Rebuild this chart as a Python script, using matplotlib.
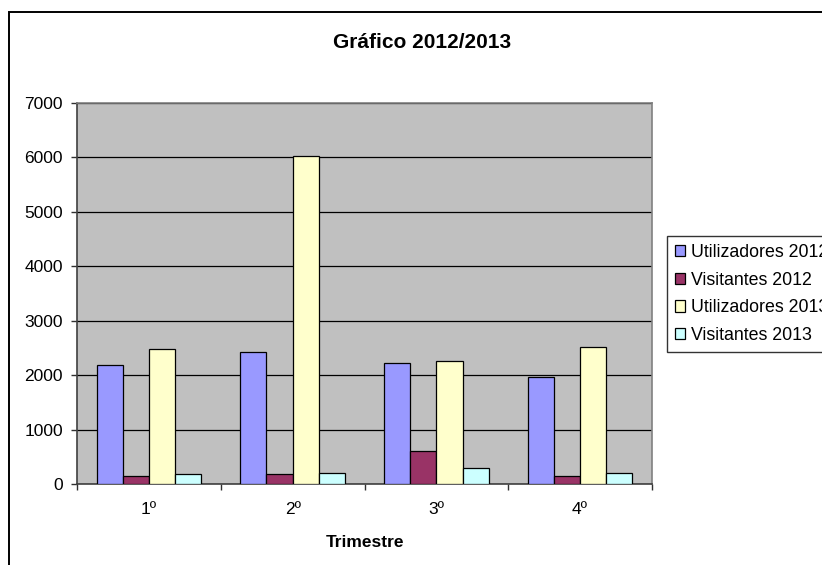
import matplotlib
matplotlib.use('Agg')
import matplotlib.pyplot as plt
from matplotlib.patches import Rectangle
import numpy as np

plt.rcParams['font.family'] = ['Liberation Sans', 'DejaVu Sans']

# dados
trimestres = ['1º', '2º', '3º', '4º']
series = ['Utilizadores 2012', 'Visitantes 2012', 'Utilizadores 2013', 'Visitantes 2013']
utilizadores_2012 = [2180, 2430, 2230, 1970]
visitantes_2012 = [150, 175, 600, 150]
utilizadores_2013 = [2480, 6030, 2260, 2510]
visitantes_2013 = [175, 200, 300, 200]
cores = ['#9999FF', '#993366', '#FFFFCC', '#CCFFFF']

W, H = 822, 565
fig = plt.figure(figsize=(W / 100, H / 100), dpi=100)
ax = fig.add_axes([77 / W, 1 - 484 / H, (652 - 77) / W, (484 - 103) / H])
ax.set_facecolor('#C0C0C0')

x = np.arange(len(trimestres))
w = 1 / 5.5  # gap width 150%
valores = [utilizadores_2012, visitantes_2012, utilizadores_2013, visitantes_2013]
for i, (nome, vals) in enumerate(zip(series, valores)):
    ax.bar(x + (i - 1.5) * w, vals, w, color=cores[i], edgecolor='black',
           linewidth=0.9, label=nome, zorder=3)

ax.set_xlim(-0.5, 3.5)
ax.set_ylim(0, 7000)
ax.set_yticks(range(0, 7001, 1000))
ax.yaxis.grid(True, color='black', linewidth=0.9, zorder=1)
ax.set_axisbelow(True)

ax.set_xticks(x)
ax.set_xticklabels(trimestres)
ax.set_xticks(np.arange(-0.5, 4, 1), minor=True)
ax.tick_params(axis='x', which='major', length=0, pad=13, labelsize=12.5)
ax.tick_params(axis='x', which='minor', length=4, width=1, color='#303030')
ax.tick_params(axis='y', length=4, width=1, color='#303030', pad=6, labelsize=12.5)

for s in ['top', 'right']:
    ax.spines[s].set_color('#808080')
    ax.spines[s].set_linewidth(1.2)
for s in ['left', 'bottom']:
    ax.spines[s].set_color('#404040')
    ax.spines[s].set_linewidth(1.2)

ax.set_xlabel('Trimestre', fontsize=12.5, fontweight='bold', labelpad=13)
fig.text(422 / W, 1 - 43 / H, 'Gráfico 2012/2013', ha='center', va='center',
         fontsize=15, fontweight='bold')

leg = fig.legend(loc='upper left', bbox_to_anchor=(666.7 / W, 1 - 236 / H),
                 bbox_transform=fig.transFigure, fontsize=12.8, frameon=True,
                 fancybox=False, handlelength=0.6, handleheight=0.6,
                 handletextpad=0.33, borderpad=0.45, labelspacing=0.6,
                 borderaxespad=0)
leg.get_frame().set_edgecolor('black')
leg.get_frame().set_linewidth(1)

# moldura da area do grafico
fig.patches.append(Rectangle((8.5 / W, -0.2), 1.2, 1.2 - 12 / H,
                             transform=fig.transFigure, fill=False,
                             edgecolor='black', linewidth=1.4))

fig.savefig('out.png', dpi=100)
